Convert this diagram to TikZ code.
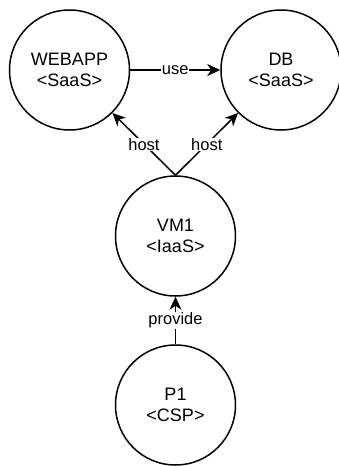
\documentclass[tikz,border=0pt]{standalone}
\usepackage{fontspec}
\setmainfont{Liberation Sans}
\usetikzlibrary{arrows.meta}
\tikzset{
  svc/.style={circle, draw=black, line width=1.5pt, minimum size=120pt, inner sep=0pt,
              align=center, font=\fontsize{18}{21.6}\selectfont},
  rel/.style={draw=black, line width=1.5pt,
              -{Stealth[length=13pt, width=12pt, inset=4pt]}},
  lbl/.style={fill=white, inner sep=0.5pt, font=\fontsize{16.5}{19}\selectfont}
}
\begin{document}
\begin{tikzpicture}[x=1pt, y=-1pt]
  \useasboundingbox (0,0) rectangle (339,466);
  \node[svc] (web) at (69.5,70)   {WEBAPP\\<SaaS>};
  \node[svc] (db)  at (281,70)    {DB\\<SaaS>};
  \node[svc] (vm)  at (175.5,236) {VM1\\<IaaS>};
  \node[svc] (p1)  at (175.5,405) {P1\\<CSP>};

  \draw[rel] (web.east) -- node[lbl] {use} (db.west);
  \draw[rel] (vm.north) -- node[lbl] {host} (web.south east);
  \draw[rel] (vm.north) -- node[lbl] {host} (db.south west);
  \draw[rel] (p1.north) -- node[lbl] {provide} (vm.south);
\end{tikzpicture}
\end{document}
